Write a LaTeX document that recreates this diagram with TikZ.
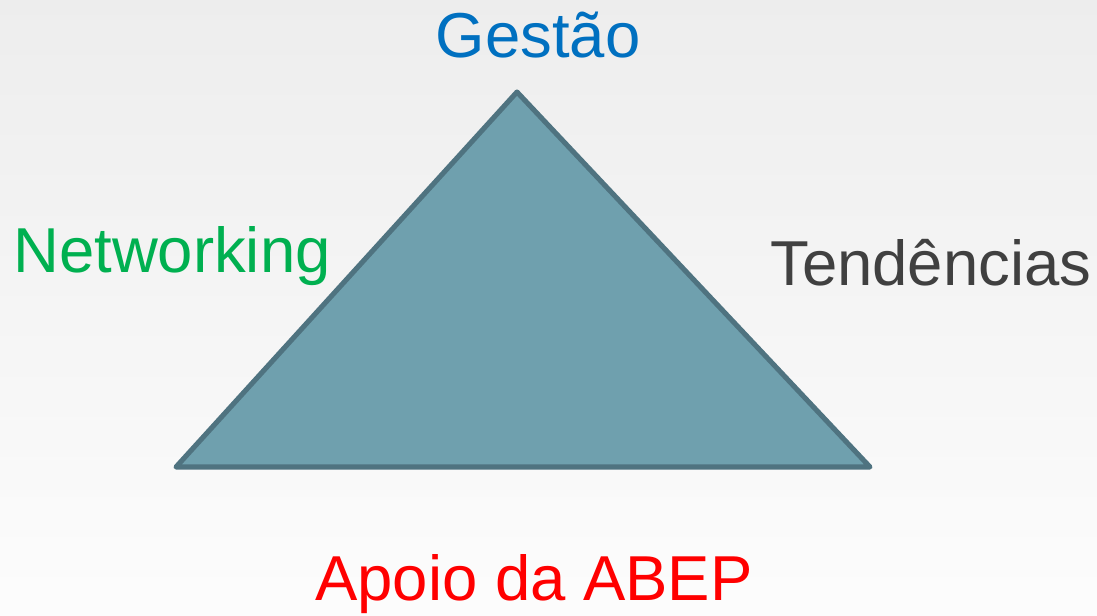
\documentclass[tikz,border=0pt]{standalone}
\usepackage{fontspec}
\setmainfont{Liberation Sans}
\usepackage{tikz}

\definecolor{gestaoblue}{HTML}{0070C0}
\definecolor{netgreen}{HTML}{00B050}
\definecolor{tendgray}{HTML}{404040}
\definecolor{trifill}{HTML}{6FA0AE}
\definecolor{triedge}{HTML}{4F7380}

\begin{document}
\begin{tikzpicture}[x=0.75pt, y=-0.75pt,
  labelnode/.style={inner sep=0pt, font=\fontsize{47.6}{57}\selectfont},
  tri/.style={fill=trifill, draw=triedge, line width=3.8pt, line join=round},]
% background
\fill[top color=black!7, bottom color=black!1] (0,0) rectangle (1097,615);
\useasboundingbox (0,0) rectangle (1097,615);
% triangle
\coordinate (apex) at (517,92);
\coordinate (left) at (176,467);
\coordinate (right) at (870,467);
\draw[tri] (apex) -- (left) -- (right) -- cycle;
% nodes
\node[labelnode, text=gestaoblue, anchor=base] (gestao) at (538,57) {Gestão};
\node[labelnode, text=netgreen, anchor=base west] (networking) at (13,272) {Networking};
\node[labelnode, text=tendgray, anchor=base west] (tendencias) at (770,285) {Tendências};
\node[labelnode, text=red, anchor=base] (apoio) at (534,600) {Apoio da ABEP};
\end{tikzpicture}
\end{document}
